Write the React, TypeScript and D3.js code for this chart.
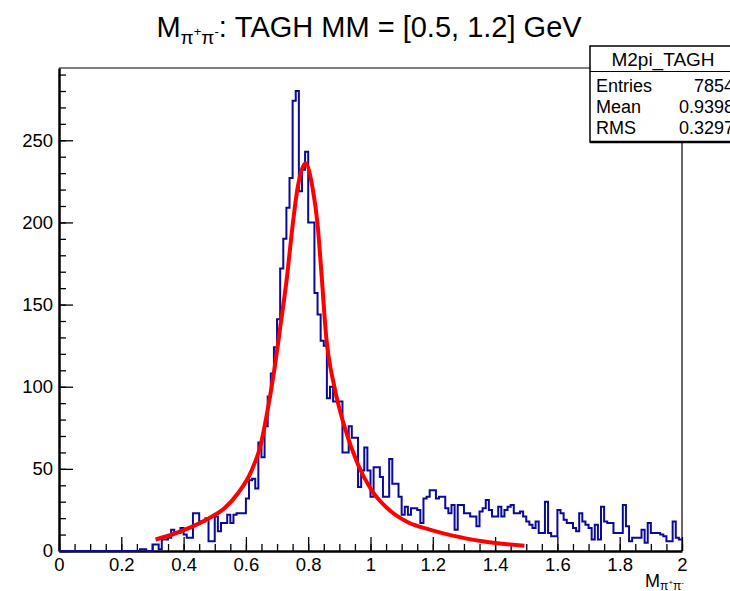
import React, { useEffect, useRef } from "react";
import * as d3 from "d3";

// histogram: 200 bins from 0 to 2 GeV
const binLow = 0;
const binHigh = 2;
const counts = [
  0, 0, 0, 0, 0, 0, 0, 0, 0, 0, 0, 0, 0, 0, 0, 0, 0, 0, 0, 0,
  0, 0, 0, 0, 0, 0, 1, 1, 0, 0, 4, 4, 1, 7, 7, 8, 13, 11, 11, 14,
  10, 8, 8, 23, 23, 18, 18, 20, 6, 6, 21, 12, 17, 17, 22, 17, 22, 23, 23, 23,
  32, 43, 44, 38, 66, 57, 76, 94, 108, 124, 141, 172, 190, 209, 227, 274, 280, 219, 232, 243,
  200, 200, 157, 144, 128, 125, 93, 100, 91, 91, 91, 60, 60, 76, 69, 69, 39, 49, 63, 49,
  33, 51, 51, 45, 33, 33, 56, 41, 41, 33, 22, 27, 22, 26, 26, 25, 17, 32, 33, 37,
  37, 32, 33, 33, 26, 23, 28, 13, 28, 28, 23, 23, 21, 21, 15, 24, 26, 31, 25, 21,
  21, 27, 21, 25, 27, 28, 23, 23, 24, 21, 18, 16, 14, 18, 11, 11, 30, 11, 9, 9,
  25, 23, 19, 17, 17, 14, 12, 23, 18, 16, 14, 7, 16, 7, 27, 18, 17, 17, 11, 11,
  11, 28, 15, 6, 8, 8, 8, 13, 5, 17, 11, 11, 11, 10, 9, 6, 6, 18, 8, 7,
];

// fit curve
const fitX = [0.31, 0.37, 0.424, 0.477, 0.531, 0.574, 0.616, 0.648, 0.67, 0.691, 0.713, 0.732, 0.748, 0.766, 0.791,
  0.814, 0.83, 0.843, 0.857, 0.884, 0.916, 0.959, 1.0, 1.066, 1.12, 1.19, 1.26, 1.365, 1.494];
const fitY = [7, 10.5, 14.5, 19.5, 26, 35, 48, 65, 86, 110, 140, 167, 195, 221, 236,
  221, 199, 168, 132, 100, 76, 53, 38, 24, 17.5, 13, 9.5, 5.8, 3.2];

const xMajor = [0, 0.2, 0.4, 0.6, 0.8, 1, 1.2, 1.4, 1.6, 1.8, 2];
const xMinor = d3.range(0, 41).map((i) => i * 0.05);
const yMajor = [0, 50, 100, 150, 200, 250];
const yMinor = d3.range(0, 30).map((i) => i * 10);
const yTop = 294;

const histName = "M2pi_TAGH";
const statLabels = ["Entries", "Mean", "RMS"];
const statValues = ["7854", "0.9398", "0.3297"];

const W = 730;
const H = 591;
const FONT = "'Liberation Sans', Arial, Helvetica, sans-serif";

const App = () => {
  const svgRef = useRef(null);

  useEffect(() => {
    var margin = { top: 68, right: 48, bottom: 40, left: 59 };
    var svg = d3.select(svgRef.current);
    svg.selectAll("*").remove();
    svg.append("rect").attr("width", W).attr("height", H).attr("fill", "white");

    var x = d3.scaleLinear().domain([binLow, binHigh]).range([margin.left, W - margin.right]);
    var y = d3.scaleLinear().domain([0, yTop]).range([H - margin.bottom, margin.top]);

    // frame top & right
    svg.append("line")
      .attr("x1", x(0)).attr("x2", x(2)).attr("y1", y(yTop)).attr("y2", y(yTop))
      .attr("stroke", "black").attr("stroke-width", 1.2);
    svg.append("line")
      .attr("x1", x(2)).attr("x2", x(2)).attr("y1", y(yTop)).attr("y2", y(0))
      .attr("stroke", "black").attr("stroke-width", 1.2);

    // x axis: minor then major ticks
    var gxMinor = svg.append("g").attr("transform", "translate(0," + y(0) + ")")
      .call(d3.axisBottom(x).tickValues(xMinor).tickSize(-7).tickFormat(() => ""));
    gxMinor.select(".domain").remove();
    var gx = svg.append("g").attr("transform", "translate(0," + y(0) + ")")
      .call(d3.axisBottom(x).tickValues(xMajor).tickSize(-14).tickPadding(7).tickSizeOuter(0)
        .tickFormat((d) => d3.format("")(+d.toFixed(1))));
    gx.select(".domain").attr("stroke-width", 2.5);
    gx.selectAll("text").attr("font-size", 18.5).attr("font-family", FONT).attr("fill", "black");

    // y axis
    var gyMinor = svg.append("g").attr("transform", "translate(" + x(0) + ",0)")
      .call(d3.axisLeft(y).tickValues(yMinor).tickSize(-7).tickFormat(() => ""));
    gyMinor.select(".domain").remove();
    var gy = svg.append("g").attr("transform", "translate(" + x(0) + ",0)")
      .call(d3.axisLeft(y).tickValues(yMajor).tickSize(-14).tickPadding(6).tickSizeOuter(0));
    gy.select(".domain").attr("stroke-width", 2.5);
    gy.selectAll("text").attr("font-size", 18.5).attr("font-family", FONT).attr("fill", "black");
    svg.selectAll(".tick line").attr("stroke-width", 1.3);

    // histogram outline
    var bw = (binHigh - binLow) / counts.length;
    var steps = counts.map((c, i) => [binLow + i * bw, c]);
    steps.push([binHigh, counts[counts.length - 1]]);
    var stepLine = d3.line()
      .x((d) => x(d[0]))
      .y((d) => y(d[1]))
      .curve(d3.curveStepAfter);
    svg.append("path")
      .attr("d", stepLine(steps))
      .attr("fill", "none")
      .attr("stroke", "#0a0a99")
      .attr("stroke-width", 2);

    // fit
    var fitLine = d3.line()
      .x((d, i) => x(fitX[i]))
      .y((d) => y(d))
      .curve(d3.curveMonotoneX);
    svg.append("path")
      .attr("d", fitLine(fitY))
      .attr("fill", "none")
      .attr("stroke", "#ff0000")
      .attr("stroke-width", 4);

    // title
    var title = svg.append("text")
      .attr("x", 369).attr("y", 37)
      .attr("text-anchor", "middle")
      .attr("font-family", FONT).attr("font-size", 29);
    title.append("tspan").text("M");
    title.append("tspan").attr("font-size", 19).attr("dy", 7).text("π");
    title.append("tspan").attr("font-size", 13).attr("dy", -8).text("+");
    title.append("tspan").attr("font-size", 19).attr("dy", 8).text("π");
    title.append("tspan").attr("font-size", 13).attr("dy", -8).text("-");
    title.append("tspan").attr("dy", 1).text(": TAGH MM = [0.5, 1.2] GeV");

    // x axis title
    var xt = svg.append("text")
      .attr("x", 684).attr("y", 587)
      .attr("text-anchor", "end")
      .attr("font-family", FONT).attr("font-size", 18);
    xt.append("tspan").text("M");
    xt.append("tspan").attr("font-size", 12).attr("dy", 3).text("π");
    xt.append("tspan").attr("font-size", 8).attr("dy", -5).text("+");
    xt.append("tspan").attr("font-size", 12).attr("dy", 5).text("π");
    xt.append("tspan").attr("font-size", 8).attr("dy", -5).text("-");

    // stats box
    var box = svg.append("g").attr("font-family", FONT);
    box.append("rect")
      .attr("x", 590).attr("y", 46).attr("width", 160).attr("height", 96)
      .attr("fill", "white").attr("stroke", "black").attr("stroke-width", 1.5);
    box.append("line")
      .attr("x1", 590).attr("x2", W).attr("y1", 142).attr("y2", 142)
      .attr("stroke", "black").attr("stroke-width", 2.5);
    box.append("line")
      .attr("x1", 590).attr("x2", W).attr("y1", 71.5).attr("y2", 71.5)
      .attr("stroke", "black").attr("stroke-width", 1.2);
    box.append("text")
      .attr("x", 663).attr("y", 66).attr("text-anchor", "middle")
      .attr("font-size", 19).text(histName);
    box.selectAll(".lab")
      .data(statLabels)
      .join("text")
      .attr("x", 596).attr("y", (d, i) => 92 + i * 21)
      .attr("font-size", 18).text((d) => d);
    box.selectAll(".val")
      .data(statValues)
      .join("text")
      .attr("x", 734).attr("y", (d, i) => 92 + i * 21)
      .attr("text-anchor", "end")
      .attr("font-size", 18).text((d) => d);
  }, []);

  return (
    <svg ref={svgRef} width={W} height={H} style={{ position: "absolute", left: 0, top: 0 }} />
  );
};

export default App;
